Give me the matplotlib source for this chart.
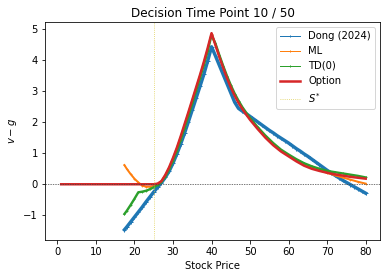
import matplotlib
matplotlib.use("Agg")
import matplotlib.pyplot as plt
from matplotlib.lines import Line2D

# ---- data ----
dong_x = [17.4, 18, 19, 20, 21, 22, 23, 24, 25, 26, 27, 28, 29, 30, 31, 32, 33, 34, 35, 36,
          37, 38, 39, 40, 41, 42, 43, 44, 45, 46, 47, 48, 49, 50, 51, 52, 53, 54, 55, 56,
          57, 58, 59, 60, 61, 62, 63, 64, 65, 66, 67, 68, 69, 70, 71, 72, 73, 74, 75, 76,
          77, 78, 79, 80]
dong_y = [-1.47, -1.38, -1.22, -1.06, -0.90, -0.74, -0.57, -0.41, -0.25, -0.10, 0.05, 0.22,
          0.42, 0.68, 0.98, 1.30, 1.65, 2.02, 2.40, 2.78, 3.16, 3.55, 3.98, 4.44, 4.15, 3.85,
          3.55, 3.25, 2.95, 2.65, 2.45, 2.36, 2.28, 2.19, 2.10, 2.01, 1.92, 1.83, 1.74, 1.66,
          1.57, 1.49, 1.41, 1.33, 1.24, 1.15, 1.07, 0.98, 0.90, 0.81, 0.72, 0.63, 0.54, 0.45,
          0.37, 0.29, 0.21, 0.13, 0.06, -0.01, -0.08, -0.15, -0.22, -0.29]

ml_x = [17.4, 18, 19, 20, 21, 22, 23, 24, 25, 26, 27, 28, 29, 30, 31, 32, 33, 34, 35, 36,
        37, 38, 39, 40, 41, 42, 43, 44, 45, 46, 47, 48, 49, 50, 52, 54, 56, 58, 60, 62,
        64, 66, 68, 70, 72, 74, 76, 78, 80]
ml_y = [0.62, 0.50, 0.33, 0.18, 0.06, -0.04, -0.08, -0.08, -0.06, 0.00, 0.10, 0.29, 0.53,
        0.83, 1.16, 1.52, 1.91, 2.30, 2.70, 3.10, 3.50, 3.92, 4.36, 4.85, 4.52, 4.15, 3.80,
        3.47, 3.16, 2.89, 2.66, 2.46, 2.28, 2.11, 1.81, 1.54, 1.30, 1.10, 0.94, 0.79, 0.66,
        0.55, 0.45, 0.37, 0.29, 0.22, 0.15, 0.08, 0.02]

td_x = ml_x
td_y = [-0.96, -0.86, -0.67, -0.47, -0.26, -0.24, -0.21, -0.16, -0.10, -0.02, 0.08, 0.25,
        0.48, 0.76, 1.08, 1.44, 1.82, 2.21, 2.61, 3.02, 3.43, 3.85, 4.30, 4.82, 4.55, 4.18,
        3.83, 3.50, 3.20, 2.93, 2.70, 2.49, 2.31, 2.14, 1.84, 1.57, 1.33, 1.12, 0.96, 0.81,
        0.68, 0.58, 0.50, 0.43, 0.39, 0.35, 0.31, 0.27, 0.22]

opt_x = [1, 25, 26, 27, 28, 29, 30, 31, 32, 33, 34, 35, 36, 37, 38, 39, 40, 41, 42, 43, 44,
         45, 46, 47, 48, 49, 50, 52, 54, 56, 58, 60, 62, 64, 66, 68, 70, 72, 74, 76, 78, 80]
opt_y = [0.0, 0.0, 0.02, 0.10, 0.30, 0.55, 0.85, 1.18, 1.55, 1.94, 2.33, 2.73, 3.13, 3.53,
         3.95, 4.40, 4.88, 4.50, 4.12, 3.77, 3.43, 3.13, 2.86, 2.63, 2.43, 2.25, 2.08, 1.78,
         1.50, 1.26, 1.06, 0.90, 0.74, 0.60, 0.50, 0.43, 0.37, 0.32, 0.28, 0.24, 0.21, 0.18]

s_star = 25
title = "Decision Time Point 10 / 50"

# ---- plot ----
fig = plt.figure(figsize=(386 / 72, 278 / 72), dpi=72)
ax = fig.add_axes([45 / 386, 1 - 240 / 278, 335 / 386, 218 / 278])

c_blue, c_orange, c_green, c_red = "#1f77b4", "#ff7f0e", "#2ca02c", "#d62728"
c_star = "#dccb45"

ax.plot(dong_x, dong_y, color=c_blue, lw=3.4, marker="+", ms=3, mew=1)
ax.plot(ml_x, ml_y, color=c_orange, lw=2.0, marker="+", ms=2, mew=0.8)
ax.plot(td_x, td_y, color=c_green, lw=2.4, marker="+", ms=2, mew=0.8)
ax.plot(opt_x, opt_y, color=c_red, lw=2.5)
ax.axvline(s_star, color=c_star, lw=0.8, ls=":")
ax.axhline(0, color="#444444", lw=0.7, ls=(0, (2, 1.5)))

handles = [
    Line2D([], [], color=c_blue, lw=1, marker="+", ms=2),
    Line2D([], [], color=c_orange, lw=1, marker="+", ms=2),
    Line2D([], [], color=c_green, lw=1, marker="+", ms=2),
    Line2D([], [], color=c_red, lw=2.5),
    Line2D([], [], color=c_star, lw=0.8, ls=":"),
]
labels = ["Dong (2024)", "ML", "TD(0)", "Option", "$S^{*}$"]
ax.legend(handles, labels, loc="upper right", fontsize=10)

ax.set_xlim(-3.2, 83.7)
ax.set_ylim(-1.80, 5.24)
ax.set_xticks([0, 10, 20, 30, 40, 50, 60, 70, 80])
ax.set_yticks([-1, 0, 1, 2, 3, 4, 5])
ax.set_xlabel("Stock Price")
ax.set_ylabel("$v - g$")
ax.set_title(title)

fig.savefig("out.png", dpi=72)
